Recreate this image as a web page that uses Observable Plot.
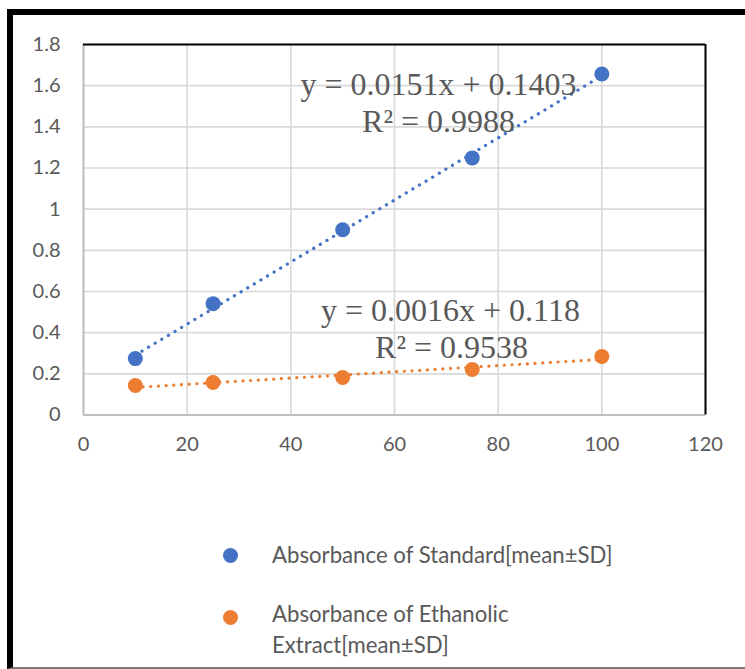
<!DOCTYPE html>
<html>
<head>
<meta charset="utf-8">
<script src="https://cdn.jsdelivr.net/npm/d3@7"></script>
<script src="https://cdn.jsdelivr.net/npm/@observablehq/plot@0.6"></script>
<style>
  body { margin: 0; background: #fff; overflow: hidden; width: 745px; height: 669px; position: relative; }
  #frame { position: absolute; left: 7px; top: 9px; width: 760px; height: 660px; box-sizing: border-box;
           border-left: 6px solid #000; border-top: 6px solid #000; border-bottom: 2px solid #7a7a7a; }
  #chart { position: absolute; left: 0; top: 0; }
  .leg { position: absolute; left: 272px; font-family: Lato, sans-serif; font-size: 22.2px; color: #595959; line-height: 31px; white-space: nowrap; }
  .dot { position: absolute; width: 15px; height: 15px; border-radius: 50%; }
</style>
</head>
<body>
<div id="frame"></div>
<div id="chart"></div>
<script>
// Data
const concentration = [10, 25, 50, 75, 100];
const standardAbs = [0.274, 0.541, 0.900, 1.249, 1.657];
const extractAbs = [0.143, 0.158, 0.182, 0.221, 0.284];
const seriesNames = ["Absorbance of Standard[mean±SD]", "Absorbance of Ethanolic Extract[mean±SD]"];
const seriesColors = ["#4472C4", "#ED7D31"];
const equationLines = [["y = 0.0151x + 0.1403", "R² = 0.9988"], ["y = 0.0016x + 0.118", "R² = 0.9538"]];
const xTicks = [0, 20, 40, 60, 80, 100, 120];
const yTicks = [0, 0.2, 0.4, 0.6, 0.8, 1, 1.2, 1.4, 1.6, 1.8];

const std = concentration.map((x, i) => ({x, y: standardAbs[i]}));
const ext = concentration.map((x, i) => ({x, y: extractAbs[i]}));

const eqFont = {fontFamily: "'Liberation Serif', 'Times New Roman', serif", fontSize: 32, fill: "#595959", textAnchor: "middle"};
const trendStyle = {ci: 0, strokeWidth: 3.2, strokeDasharray: "0.1 7.6", strokeLinecap: "round"};

const chart = Plot.plot({
  width: 745,
  height: 480,
  marginTop: 44,
  marginLeft: 83,
  marginRight: 40,
  marginBottom: 65.5,
  x: {domain: [0, 120]},
  y: {domain: [0, 1.8]},
  style: {fontFamily: "Lato, sans-serif", fontSize: "20px", color: "#595959", background: "transparent", overflow: "visible"},
  marks: [
    Plot.gridY(yTicks, {stroke: "#d9d9d9", strokeOpacity: 1, strokeWidth: 1.6}),
    Plot.gridX(xTicks, {stroke: "#d9d9d9", strokeOpacity: 1, strokeWidth: 1.6}),
    Plot.ruleX([0], {stroke: "#bfbfbf", strokeWidth: 2}),
    Plot.ruleY([0], {stroke: "#bfbfbf", strokeWidth: 2}),
    Plot.ruleX([120], {stroke: "#000", strokeWidth: 2}),
    Plot.ruleY([1.8], {stroke: "#000", strokeWidth: 2}),
    Plot.axisY(yTicks, {tickSize: 0, tickPadding: 23, tickFormat: d => String(Math.round(d * 10) / 10), fill: "#595959", label: null}),
    Plot.axisX(xTicks, {tickSize: 0, tickPadding: 22, tickFormat: d => String(d), fill: "#595959", label: null}),
    Plot.linearRegressionY(std, {x: "x", y: "y", stroke: seriesColors[0], ...trendStyle}),
    Plot.linearRegressionY(ext, {x: "x", y: "y", stroke: seriesColors[1], ...trendStyle}),
    Plot.dot(std, {x: "x", y: "y", r: 7.5, fill: seriesColors[0]}),
    Plot.dot(ext, {x: "x", y: "y", r: 7.5, fill: seriesColors[1]}),
    Plot.text([equationLines[0][0]], {x: 68.5, y: 1.603, text: d => d, ...eqFont}),
    Plot.text([equationLines[0][1]], {x: 68.5, y: 1.4255, text: d => d, ...eqFont}),
    Plot.text([equationLines[1][0]], {x: 70.8, y: 0.507, text: d => d, ...eqFont}),
    Plot.text([equationLines[1][1]], {x: 71.0, y: 0.3275, text: d => d, ...eqFont})
  ]
});
document.getElementById("chart").appendChild(chart);

// Legend (below the plot)
const legendLayout = [
  {dotTop: 547.5, textTop: 538.9, lines: ["Absorbance of Standard[mean±SD]"]},
  {dotTop: 609.5, textTop: 597.9, lines: ["Absorbance of Ethanolic", "Extract[mean±SD]"]}
];
legendLayout.forEach((L, i) => {
  const dot = document.createElement("div");
  dot.className = "dot";
  dot.style.left = "222.5px";
  dot.style.top = L.dotTop + "px";
  dot.style.background = seriesColors[i];
  document.body.appendChild(dot);
  const t = document.createElement("div");
  t.className = "leg";
  t.style.top = L.textTop + "px";
  t.innerHTML = L.lines.join("<br>");
  document.body.appendChild(t);
});
</script>
</body>
</html>
